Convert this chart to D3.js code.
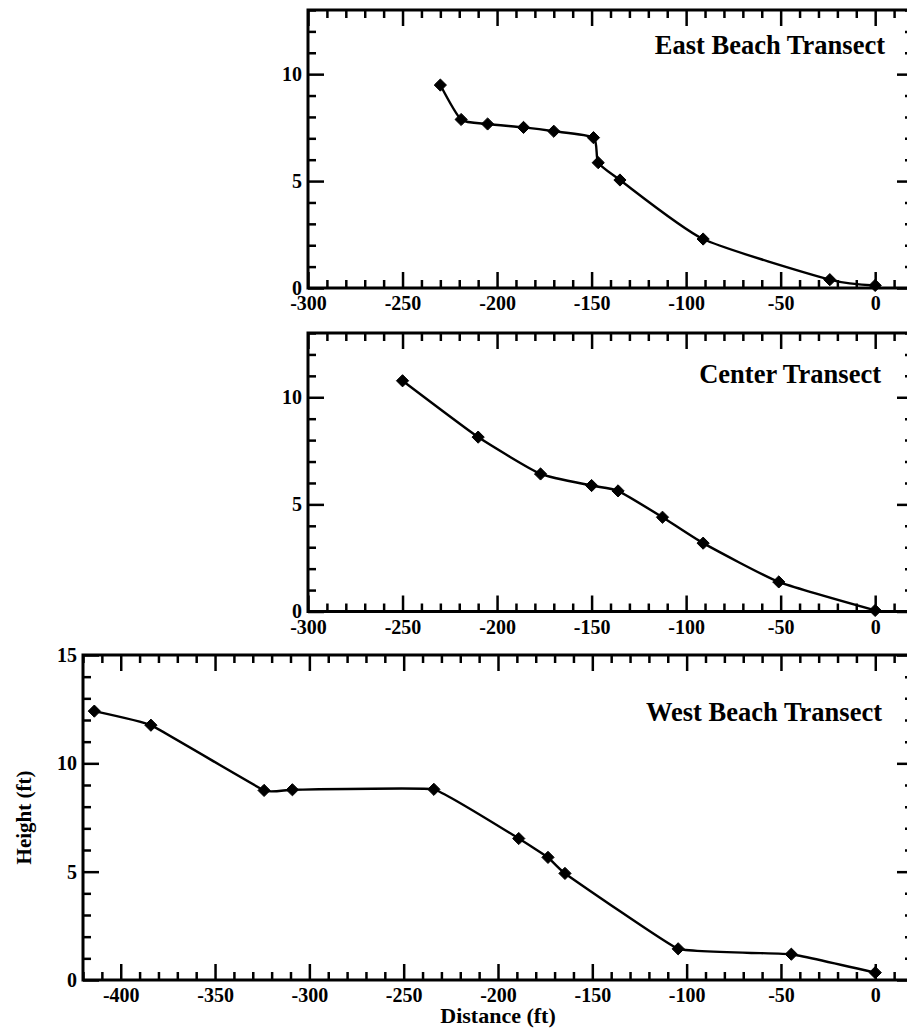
<!DOCTYPE html>
<html>
<head>
<meta charset="utf-8">
<script src="https://cdn.jsdelivr.net/npm/d3@7"></script>
<style>
  body { margin: 0; background: #fff; }
  svg { display: block; }
  text { font-family: "Liberation Serif", "Times New Roman", serif; font-weight: bold; fill: #000; }
</style>
</head>
<body>
<svg id="chart" width="907" height="1034"></svg>
<script>
// transect profiles (distance ft, height ft)
const eastDist = [-230, -219, -205, -186, -170, -149, -146.5, -135, -91, -24, 0];
const eastHeight = [9.49, 7.88, 7.67, 7.51, 7.33, 7.03, 5.86, 5.05, 2.29, 0.39, 0.12];

const centerDist = [-250, -210, -177, -150, -136, -112.5, -91, -51, 0];
const centerHeight = [10.77, 8.14, 6.42, 5.88, 5.63, 4.40, 3.19, 1.38, 0.05];

const westDist = [-414, -384, -324, -309, -234, -189, -173.5, -164.5, -104.5, -44.5, 0];
const westHeight = [12.41, 11.76, 8.75, 8.78, 8.80, 6.53, 5.66, 4.92, 1.44, 1.19, 0.34];

const titles = ['East Beach Transect', 'Center Transect', 'West Beach Transect'];
const xLabel = 'Distance (ft)';
const yLabel = 'Height (ft)';

const svg = d3.select('#chart');

const majorLen = 16;
const minorLen = 8;

function zip(xs, ys) {
    return xs.map((x, i) => ({ x: x, y: ys[i] }));
}

function panel(opts) {
    const x = d3.scaleLinear().domain(opts.xDomain).range([opts.left, opts.right]);
    const y = d3.scaleLinear().domain(opts.yDomain).range([opts.bottom, opts.top]);
    const g = svg.append('g');

    const xMajor = d3.range(Math.ceil(opts.xDomain[0] / 50) * 50, opts.xDomain[1] + 1, 50);
    const xMinor = d3.range(opts.xDomain[0], opts.xDomain[1] + 1, 10).filter(v => v % 50 !== 0);
    const yMajor = d3.range(0, opts.yDomain[1] + 1, 5);
    const yMinor = d3.range(0, opts.yDomain[1] + 1, 1).filter(v => v % 5 !== 0);

    const fmt = d => String(d);

    // bottom axis with labels
    g.append('g')
        .attr('transform', 'translate(0,' + opts.bottom + ')')
        .call(d3.axisBottom(x).tickValues(xMajor).tickSize(-majorLen).tickPadding(8).tickFormat(fmt))
        .call(a => a.selectAll('text').style('font-size', '20px'));
    g.append('g')
        .attr('transform', 'translate(0,' + opts.bottom + ')')
        .call(d3.axisBottom(x).tickValues(xMinor).tickSize(-minorLen).tickFormat(''));

    // top axis, ticks only
    g.append('g')
        .attr('transform', 'translate(0,' + opts.top + ')')
        .call(d3.axisTop(x).tickValues(xMajor).tickSize(-majorLen).tickFormat(''));
    g.append('g')
        .attr('transform', 'translate(0,' + opts.top + ')')
        .call(d3.axisTop(x).tickValues(xMinor).tickSize(-minorLen).tickFormat(''));

    // left axis with labels
    g.append('g')
        .attr('transform', 'translate(' + opts.left + ',0)')
        .call(d3.axisLeft(y).tickValues(yMajor).tickSize(-majorLen).tickPadding(6).tickFormat(fmt))
        .call(a => a.selectAll('text').style('font-size', '20px'));
    g.append('g')
        .attr('transform', 'translate(' + opts.left + ',0)')
        .call(d3.axisLeft(y).tickValues(yMinor).tickSize(-minorLen).tickFormat(''));

    // right axis, ticks only
    g.append('g')
        .attr('transform', 'translate(' + opts.right + ',0)')
        .call(d3.axisRight(y).tickValues(yMajor).tickSize(-majorLen).tickFormat(''));
    g.append('g')
        .attr('transform', 'translate(' + opts.right + ',0)')
        .call(d3.axisRight(y).tickValues(yMinor).tickSize(-minorLen).tickFormat(''));

    g.selectAll('.domain').remove();
    g.selectAll('.tick line').attr('stroke', '#000').attr('stroke-width', 2.5);

    g.append('rect')
        .attr('x', opts.left)
        .attr('y', opts.top)
        .attr('width', opts.right - opts.left)
        .attr('height', opts.bottom - opts.top)
        .attr('fill', 'none')
        .attr('stroke', '#000')
        .attr('stroke-width', 3);

    const pts = zip(opts.dist, opts.height);

    g.append('path')
        .datum(pts)
        .attr('fill', 'none')
        .attr('stroke', '#000')
        .attr('stroke-width', 2.4)
        .attr('d', d3.line().x(d => x(d.x)).y(d => y(d.y)).curve(d3.curveCardinal.tension(opts.tension)));

    g.selectAll('path.pt')
        .data(pts)
        .enter().append('path')
        .attr('class', 'pt')
        .attr('transform', d => 'translate(' + x(d.x) + ',' + y(d.y) + ')')
        .attr('d', d3.symbol().type(d3.symbolDiamond2).size(95))
        .attr('fill', '#000')
        .attr('stroke', '#000')
        .attr('stroke-width', 1);

    g.append('text')
        .attr('x', opts.titleX)
        .attr('y', y(opts.titleY))
        .attr('text-anchor', 'end')
        .style('font-size', '26.5px')
        .text(opts.title);

    return { x: x, y: y };
}

panel({
    left: 308, right: 913, top: 10, bottom: 288,
    xDomain: [-300, 20], yDomain: [0, 13],
    dist: eastDist, height: eastHeight, tension: 0.4,
    title: titles[0], titleX: 885, titleY: 10.93
});

panel({
    left: 308, right: 913, top: 333, bottom: 611.5,
    xDomain: [-300, 20], yDomain: [0, 13],
    dist: centerDist, height: centerHeight, tension: 0.5,
    title: titles[1], titleX: 881, titleY: 10.68
});

panel({
    left: 83, right: 913, top: 655, bottom: 980,
    xDomain: [-420, 20], yDomain: [0, 15],
    dist: westDist, height: westHeight, tension: 0.75,
    title: titles[2], titleX: 882, titleY: 11.95
});

svg.append('text')
    .attr('x', (83 + 913) / 2)
    .attr('y', 1023)
    .attr('text-anchor', 'middle')
    .style('font-size', '22px')
    .text(xLabel);

svg.append('text')
    .attr('transform', 'translate(31,' + (655 + 980) / 2 + ') rotate(-90)')
    .attr('text-anchor', 'middle')
    .style('font-size', '21px')
    .text(yLabel);
</script>
</body>
</html>
